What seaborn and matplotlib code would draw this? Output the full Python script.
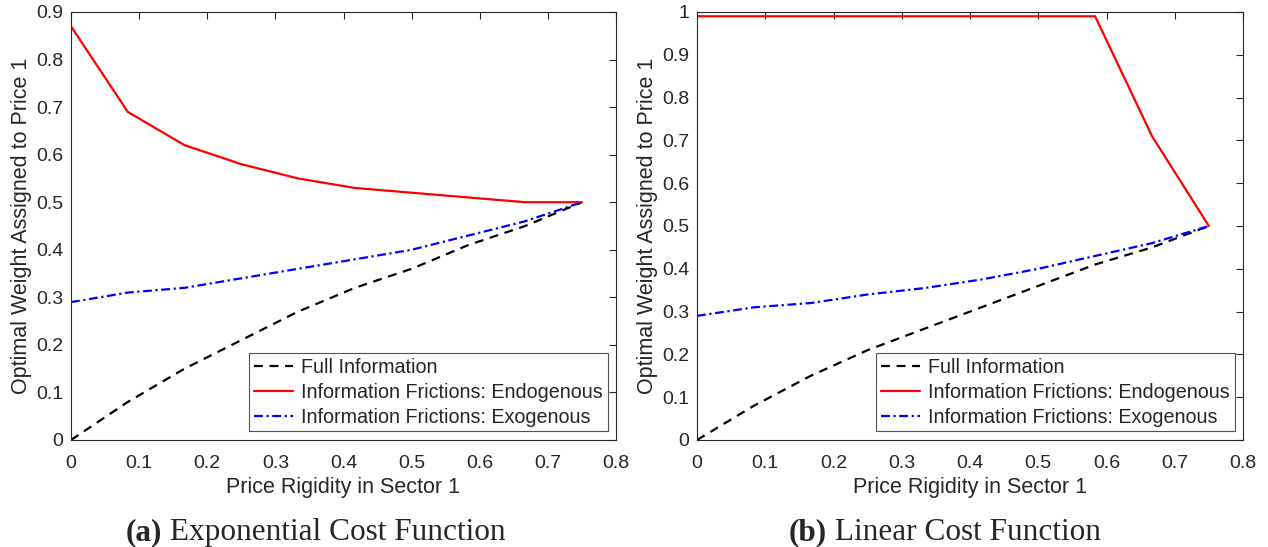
import matplotlib
matplotlib.use("Agg")
import matplotlib.pyplot as plt
import seaborn as sns
import numpy as np
import pandas as pd

# Data
rigidity = [0, 1/12, 2/12, 3/12, 4/12, 5/12, 6/12, 7/12, 8/12, 9/12]

a_full = [0.0, 0.08, 0.15, 0.21, 0.27, 0.32, 0.36, 0.41, 0.45, 0.50]
a_endo = [0.87, 0.69, 0.62, 0.58, 0.55, 0.53, 0.52, 0.51, 0.50, 0.50]
a_exo = [0.29, 0.31, 0.32, 0.34, 0.36, 0.38, 0.40, 0.43, 0.46, 0.50]

b_full = [0.0, 0.08, 0.15, 0.21, 0.26, 0.31, 0.36, 0.41, 0.45, 0.50]
b_endo = [0.99, 0.99, 0.99, 0.99, 0.99, 0.99, 0.99, 0.99, 0.71, 0.50]
b_exo = [0.29, 0.31, 0.32, 0.34, 0.355, 0.375, 0.40, 0.43, 0.46, 0.50]

series_names = ["Full Information",
                "Information Frictions: Endogenous",
                "Information Frictions: Exogenous"]
xlabel = "Price Rigidity in Sector 1"
ylabel = "Optimal Weight Assigned to Price 1"
xticks = [0, 0.1, 0.2, 0.3, 0.4, 0.5, 0.6, 0.7, 0.8]
a_yticks = [0, 0.1, 0.2, 0.3, 0.4, 0.5, 0.6, 0.7, 0.8, 0.9]
b_yticks = [0, 0.1, 0.2, 0.3, 0.4, 0.5, 0.6, 0.7, 0.8, 0.9, 1.0]
captions = [("(a)", "Exponential Cost Function"), ("(b)", "Linear Cost Function")]

sns.set_theme(style="white")
plt.rcParams['font.family'] = ['Liberation Sans', 'DejaVu Sans']

TXT = "#262626"
W, H = 1268, 547
fig = plt.figure(figsize=(12.68, 5.47), dpi=100)
ax1 = fig.add_axes([71/W, 107/H, 545/W, 428/H])
ax2 = fig.add_axes([697/W, 107/H, 546/W, 428/H])

styles = [dict(color="black", dashes=(4, 3)),
          dict(color="#ff0000", dashes=""),
          dict(color="#0000ff", dashes=(4, 1.6, 1, 1.6))]

def fmt(v):
    return f"{v:g}"

for ax, ys, yt, ymax in [(ax1, [a_full, a_endo, a_exo], a_yticks, 0.9),
                         (ax2, [b_full, b_endo, b_exo], b_yticks, 1.0)]:
    handles = []
    for name, y, st in zip(series_names, ys, styles):
        df = pd.DataFrame({"x": rigidity, "y": y})
        sns.lineplot(data=df, x="x", y="y", ax=ax, color=st["color"], linewidth=1.6)
        line = ax.lines[-1]
        if st["dashes"]:
            line.set_dashes(st["dashes"])
        line.set_label(name)
        handles.append(line)
    ax.set_xlim(0, 0.8)
    ax.set_ylim(0, ymax)
    ax.set_xticks(xticks)
    ax.set_xticklabels([fmt(v) for v in xticks])
    ax.set_yticks(yt)
    ax.set_yticklabels([fmt(v) for v in yt])
    ax.tick_params(direction="in", length=5, width=0.8, top=True, right=True,
                   labelsize=14, colors=TXT)
    ax.tick_params(axis="y", pad=5.5)
    ax.tick_params(axis="x", pad=10.5)
    for sp in ax.spines.values():
        sp.set_color(TXT)
        sp.set_linewidth(0.8)
    ax.set_xlabel(xlabel, fontsize=15.5, color=TXT, labelpad=4)
    ax.set_ylabel(ylabel, fontsize=15.5, color=TXT, labelpad=3)
    leg = ax.legend(handles=handles, loc="lower right", fontsize=14.2,
                    frameon=True, fancybox=False, borderpad=0.25,
                    labelspacing=0.3, handlelength=2.0, handletextpad=0.4,
                    borderaxespad=0.0, bbox_to_anchor=(0.985, 0.02))
    leg.get_frame().set_edgecolor(TXT)
    leg.get_frame().set_linewidth(0.8)
    for t in leg.get_texts():
        t.set_color(TXT)
    ax.grid(False)

fig.canvas.draw()
r = fig.canvas.get_renderer()
for cxp, (lab, cap) in zip([316, 945], captions):
    cx = cxp / W
    t1 = fig.text(0, 7/H, lab, fontsize=22.5, fontweight="bold", va="baseline",
                  family=["Liberation Serif", "DejaVu Serif"])
    t2 = fig.text(0, 7/H, " " + cap, fontsize=22.5, va="baseline",
                  family=["Liberation Serif", "DejaVu Serif"])
    w1 = t1.get_window_extent(r).width / fig.bbox.width
    w2 = t2.get_window_extent(r).width / fig.bbox.width
    x0 = cx - (w1 + w2) / 2
    t1.set_x(x0)
    t2.set_x(x0 + w1)

fig.savefig("out.png", dpi=100)
